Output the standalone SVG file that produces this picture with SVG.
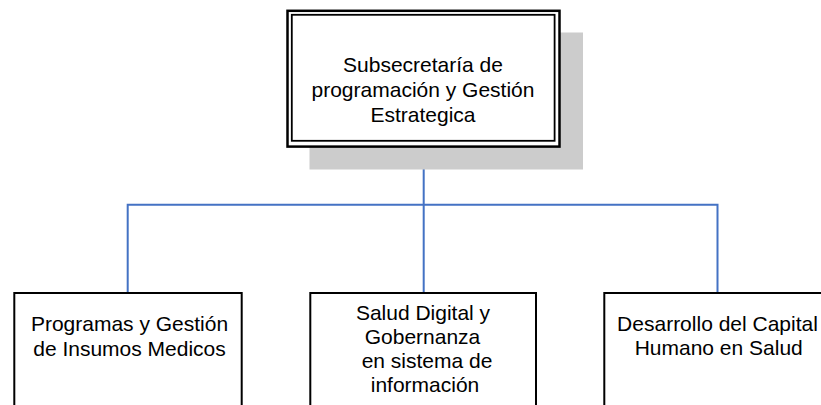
<svg xmlns="http://www.w3.org/2000/svg" width="821" height="405" viewBox="0 0 821 405">
<style>
text{font-family:"Liberation Sans",Arial,sans-serif;font-size:21px;fill:#000;text-anchor:middle}
.box{fill:#fff;stroke:#000;stroke-width:2}
.conn{fill:none;stroke:#4472C4;stroke-width:2}
</style>
<rect width="821" height="405" fill="#fff"/>
<g id="connectors">
<path class="conn" d="M423.7 146.7V204.8M127.7 293V204.8H717.5V293M423.7 204.8V293"/>
</g>
<g id="top">
<rect x="309.5" y="32.5" width="273.5" height="137" fill="#cccccc"/>
<rect x="287.5" y="10.8" width="272" height="135.8" fill="#fff" stroke="#000" stroke-width="2.5"/>
<rect x="291.8" y="14.8" width="262.8" height="126" fill="none" stroke="#000" stroke-width="1.8"/>
<text x="423" y="72">Subsecretaría de</text>
<text x="423" y="97">programación y Gestión</text>
<text x="423" y="122">Estrategica</text>
</g>
<g id="n1">
<rect class="box" x="14.3" y="293" width="227.4" height="120"/>
<text x="129.5" y="331">Programas y Gestión</text>
<text x="129.5" y="355.5">de Insumos Medicos</text>
</g>
<g id="n2">
<rect class="box" x="310.3" y="293" width="225.7" height="120"/>
<text x="423" y="319.5">Salud Digital y</text>
<text x="422.5" y="343.5">Gobernanza</text>
<text x="427" y="367.5">en sistema de</text>
<text x="425" y="391.5">información</text>
</g>
<g id="n3">
<rect class="box" x="604.3" y="293" width="227" height="120"/>
<text x="717.5" y="330.5">Desarrollo del Capital</text>
<text x="718.7" y="355">Humano en Salud</text>
</g>
</svg>
